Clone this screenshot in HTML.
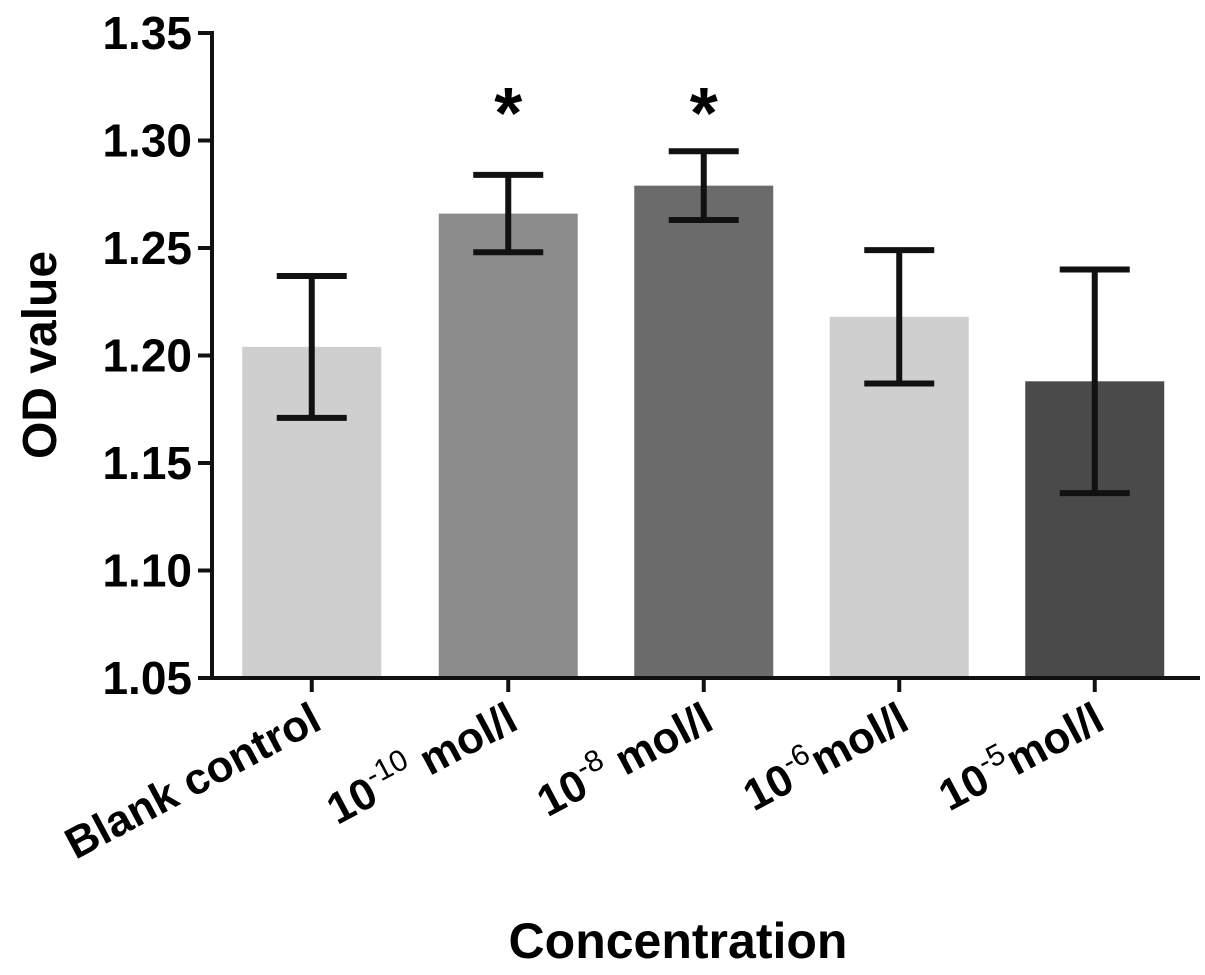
<!DOCTYPE html>
<html><head><meta charset="utf-8"><style>
html,body{margin:0;padding:0;background:#fff;}
svg text{font-family:"Liberation Sans",Arial,sans-serif;font-weight:bold;fill:#000;}
</style></head><body>
<svg id="chart" width="1205" height="970" viewBox="0 0 1205 970" xmlns="http://www.w3.org/2000/svg"></svg>
<script>
const categories = ["Blank control","10^-10 mol/l","10^-8 mol/l","10^-6mol/l","10^-5mol/l"];
const values = [1.204, 1.266, 1.279, 1.218, 1.188];
const errors = [0.033, 0.018, 0.016, 0.031, 0.052];
const significant = [false, true, true, false, false];
const yTicks = [1.05, 1.10, 1.15, 1.20, 1.25, 1.30, 1.35];
const barColors = ["#cfcfcf","#8c8c8c","#6b6b6b","#cfcfcf","#4a4a4a"];

const NS="http://www.w3.org/2000/svg";
const svg=document.getElementById('chart');
const y0=678, y1=33, vmin=1.05, vmax=1.35, axisX=212;
const yScale=v=>y0-(v-vmin)/(vmax-vmin)*(y0-y1);
const bandStart=215, bandW=195.5, barW=139;
const xCenter=i=>bandStart+bandW*(i+0.5)+(i===0?-1:0);
function mk(tag,attrs,parent){const e=document.createElementNS(NS,tag);for(const k in attrs)e.setAttribute(k,attrs[k]);(parent||svg).appendChild(e);return e;}

categories.forEach((c,i)=>{
  const cx=xCenter(i), top=yScale(values[i]);
  const b=mk('rect',{x:cx-barW/2,y:top,width:barW,height:y0-top,fill:barColors[i]});
  
  
  const hi=yScale(values[i]+errors[i]), lo=yScale(values[i]-errors[i]);
  const g=mk('g',{stroke:'#111','stroke-width':6,fill:'none'});
  
  
  mk('line',{x1:cx,y1:hi,x2:cx,y2:lo},g);
  mk('line',{x1:cx-35,y1:hi,x2:cx+35,y2:hi},g);
  mk('line',{x1:cx-35,y1:lo,x2:cx+35,y2:lo},g);
  if(significant[i]){
    const s=mk('text',{x:cx,y:138,'font-size':72,'font-weight':'normal','text-anchor':'middle'});
    s.textContent='*';
    
    
  }
  const t=mk('line',{x1:cx,y1:y0,x2:cx,y2:y0+14,stroke:'#111','stroke-width':4});
  
  
  const lbl=mk('text',{'font-size':44,'text-anchor':'end',transform:`translate(${cx+12},${y0+50}) rotate(-28)`});
  
  
  const m=c.match(/^10\^(-?\d+)( ?)(.*)$/);
  if(m){
    const a=document.createElementNS(NS,'tspan');a.textContent='10';lbl.appendChild(a);
    const sp=document.createElementNS(NS,'tspan');sp.setAttribute('dy','-18');sp.setAttribute('font-size','30');sp.setAttribute('font-weight','normal');sp.textContent=m[1];lbl.appendChild(sp);
    const r=document.createElementNS(NS,'tspan');r.setAttribute('dy','18');r.textContent=m[2]+m[3];lbl.appendChild(r);
  } else lbl.textContent=c;
});

yTicks.forEach(v=>{
  const y=yScale(v);
  const t=mk('line',{x1:axisX-14,y1:y,x2:axisX,y2:y,stroke:'#111','stroke-width':4});
  
  
  const l=mk('text',{x:axisX-20,y:y+16,'font-size':46,'text-anchor':'end'});
  l.textContent=v.toFixed(2);
  
  
});
const ya=mk('line',{x1:axisX,y1:y1-2,x2:axisX,y2:y0+2,stroke:'#111','stroke-width':4});


const xa=mk('line',{x1:axisX-2,y1:y0,x2:1200,y2:y0,stroke:'#111','stroke-width':4});


const yt=mk('text',{'font-size':48,'text-anchor':'middle',transform:'translate(56,355) rotate(-90)'});
yt.textContent='OD value';


const xt=mk('text',{x:678,y:958,'font-size':50,'text-anchor':'middle'});
xt.textContent='Concentration';


</script>
</body></html>
